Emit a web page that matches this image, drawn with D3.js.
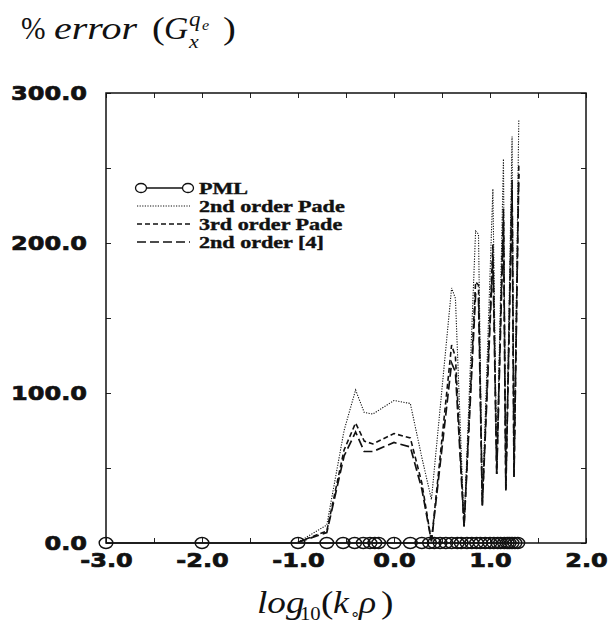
<!DOCTYPE html>
<html>
<head>
<meta charset="utf-8">
<script src="https://cdn.jsdelivr.net/npm/d3@7"></script>
<style>
  body { margin: 0; background: #fff; }
</style>
</head>
<body>
<script>
// PML sample points, log10(k rho), and its error (zero everywhere)
const pmlX = [-3, -2, -1, -0.7, -0.53, -0.41, -0.32, -0.25, -0.2, -0.16, 0, 0.17, 0.29, 0.37, 0.42,
    0.48, 0.54, 0.6, 0.66, 0.7, 0.76, 0.81, 0.86, 0.9, 0.95, 1.0, 1.04, 1.08, 1.11, 1.15, 1.18,
    1.2, 1.23, 1.26, 1.29];
const pmlErr = [0, 0, 0, 0, 0, 0, 0, 0, 0, 0, 0, 0, 0, 0, 0, 0, 0, 0, 0, 0, 0, 0, 0, 0, 0, 0, 0,
    0, 0, 0, 0, 0, 0, 0, 0];

// vertices of the approximation curves
const curveX = [-1, -0.7, -0.52, -0.4, -0.31, -0.22, 0, 0.17, 0.29, 0.39, 0.6, 0.64, 0.73, 0.85,
    0.88, 0.92, 1.03, 1.07, 1.14, 1.165, 1.23, 1.25, 1.30];
const pade2Err = [0.5, 12, 75, 102, 87, 86, 95, 93, 57, 29, 170, 163, 11, 208, 206, 25, 236, 46,
    256, 35, 271, 44, 282];
const pade3Err = [0.5, 8, 62, 80, 68, 66, 73, 70, 40, 1, 132, 124, 11, 174, 172, 25, 199, 46,
    223, 35, 242, 44, 252];
const ref4Err = [0.5, 7, 58, 74, 61, 61, 67, 64, 36, 1, 120, 114, 11, 166, 164, 25, 190, 46,
    214, 35, 236, 44, 246];

const xTickLabels = [-3, -2, -1, 0, 1, 2];
const xMinorTicks = [-3, -2.5, -2, -1.5, -1, -0.5, 0, 0.5, 1, 1.5, 2];
const yTickLabels = [0, 100, 200, 300];
const yMinorTicks = [0, 50, 100, 150, 200, 250, 300];
const legendLabels = ["PML", "2nd order Pade", "3rd order Pade", "2nd order [4]"];

// the scan is wide, so every text gets stretched sideways
function widen(sel, k) {
    sel.each(function () {
        const n = this.getComputedTextLength();
        d3.select(this).attr("textLength", n * k).attr("lengthAdjust", "spacingAndGlyphs");
    });
}

function main() {
    const svg = d3.select("body").append("svg")
        .attr("width", 613)
        .attr("height", 635);

    const x = d3.scaleLinear().domain([-3, 2]).range([106, 586]);
    const y = d3.scaleLinear().domain([0, 300]).range([543, 93]);
    const fmt = d => d.toFixed(1);

    // inward minor ticks on all four sides
    const tickG = svg.append("g").attr("class", "ticks");
    tickG.append("g").attr("transform", "translate(0,93)")
        .call(d3.axisTop(x).tickValues(xMinorTicks).tickSize(-5).tickFormat(""));
    tickG.append("g").attr("transform", "translate(0,543)")
        .call(d3.axisBottom(x).tickValues(xMinorTicks).tickSize(-5).tickFormat(""));
    tickG.append("g").attr("transform", "translate(106,0)")
        .call(d3.axisLeft(y).tickValues(yMinorTicks).tickSize(-5).tickFormat(""));
    tickG.append("g").attr("transform", "translate(586,0)")
        .call(d3.axisRight(y).tickValues(yMinorTicks).tickSize(-5).tickFormat(""));
    tickG.selectAll(".domain").remove();
    tickG.selectAll("line").attr("stroke", "#222").attr("stroke-width", 1);

    // labelled axes
    const xAxis = svg.append("g").attr("transform", "translate(0,543)")
        .call(d3.axisBottom(x).tickValues(xTickLabels).tickSize(0).tickPadding(10).tickFormat(fmt));
    const yAxis = svg.append("g").attr("transform", "translate(106,0)")
        .call(d3.axisLeft(y).tickValues(yTickLabels).tickSize(0).tickPadding(19).tickFormat(fmt));
    [xAxis, yAxis].forEach(a => {
        a.select(".domain").remove();
        a.selectAll("text")
            .style("font-family", "'DejaVu Sans', sans-serif")
            .style("font-weight", "bold")
            .style("font-size", "20px")
            .attr("fill", "#111")
            .attr("stroke", "#111")
            .attr("stroke-width", 0.7);
        widen(a.selectAll("text"), 1.2);
    });

    // frame
    svg.append("rect")
        .attr("x", x(-3)).attr("y", y(300))
        .attr("width", x(2) - x(-3)).attr("height", y(0) - y(300))
        .attr("fill", "none").attr("stroke", "#111").attr("stroke-width", 1.5);

    const line = d3.line().x(d => x(d[0])).y(d => y(d[1]));

    const series = [
        { vals: pade2Err, dash: "1.2,1.4", w: 1.1 },
        { vals: pade3Err, dash: "5,3", w: 1.6 },
        { vals: ref4Err, dash: "9,4", w: 1.7 }
    ];
    series.forEach(s => {
        svg.append("path")
            .datum(d3.zip(curveX, s.vals))
            .attr("d", line)
            .attr("fill", "none")
            .attr("stroke", "#111")
            .attr("stroke-width", s.w)
            .attr("stroke-dasharray", s.dash);
    });

    // PML: solid line with open circles
    svg.append("path")
        .datum(d3.zip(pmlX, pmlErr))
        .attr("d", line)
        .attr("fill", "none").attr("stroke", "#111").attr("stroke-width", 1.5);
    svg.selectAll(".pml")
        .data(d3.zip(pmlX, pmlErr))
        .enter()
        .append("ellipse")
        .attr("class", "pml")
        .attr("cx", d => x(d[0])).attr("cy", d => y(d[1]))
        .attr("rx", 6.8).attr("ry", 5.5)
        .attr("fill", "none").attr("stroke", "#111").attr("stroke-width", 1.4);

    // legend
    const lg = svg.append("g");
    const rowY = [188, 206, 224, 242];
    lg.append("line").attr("x1", 141).attr("x2", 188).attr("y1", rowY[0]).attr("y2", rowY[0])
        .attr("stroke", "#111").attr("stroke-width", 1.3);
    lg.selectAll("ellipse").data([141, 188]).enter().append("ellipse")
        .attr("cx", d => d).attr("cy", rowY[0]).attr("rx", 5.5).attr("ry", 4.5)
        .attr("fill", "#fff").attr("stroke", "#111").attr("stroke-width", 1.3);
    series.forEach((s, i) => {
        lg.append("line").attr("x1", 137).attr("x2", 190)
            .attr("y1", rowY[i + 1]).attr("y2", rowY[i + 1])
            .attr("stroke", "#111").attr("stroke-width", s.w).attr("stroke-dasharray", s.dash);
    });
    const lt = lg.selectAll("text").data(legendLabels).enter().append("text")
        .attr("x", 199).attr("y", (d, i) => rowY[i] + 5.5)
        .style("font-family", "'Liberation Serif', serif")
        .style("font-weight", "bold")
        .style("font-size", "17px")
        .attr("fill", "#111")
        .attr("stroke", "#111")
        .attr("stroke-width", 0.4)
        .text(d => d);
    widen(lt, 1.3);

    // title: % error (G_x^{q_e})
    const tg = svg.append("g").attr("fill", "#111")
        .style("font-family", "'Liberation Serif', serif");
    const piece = (t, px, py, size, italic, k) => {
        const el = tg.append("text").attr("x", px).attr("y", py)
            .style("font-size", size + "px")
            .style("font-style", italic ? "italic" : "normal")
            .text(t);
        widen(el, k);
        return el;
    };
    piece("%", 21, 39, 31, false, 0.95);
    piece("error", 54, 39, 32, true, 1.25);
    piece("(", 152, 39, 32, false, 1.2);
    piece("G", 164, 39, 32, true, 1.05);
    piece("q", 189, 26, 20, true, 1.15);
    piece("e", 202, 30, 14, true, 1.15);
    piece("x", 189, 48, 19, true, 1.15);
    piece(")", 223, 39, 32, false, 1.2);

    // x label: log10(k∘ρ)
    piece("log", 257, 613, 31, true, 1.2);
    piece("10", 300, 620, 18, false, 1.15);
    piece("(", 321, 613, 31, false, 1.2);
    piece("k", 333, 613, 31, true, 1.15);
    piece("∘", 350, 619, 15, false, 1.1);
    piece("ρ", 359, 613, 31, true, 1.15);
    piece(")", 381, 613, 31, false, 1.2);
}
main();
</script>
</body>
</html>
